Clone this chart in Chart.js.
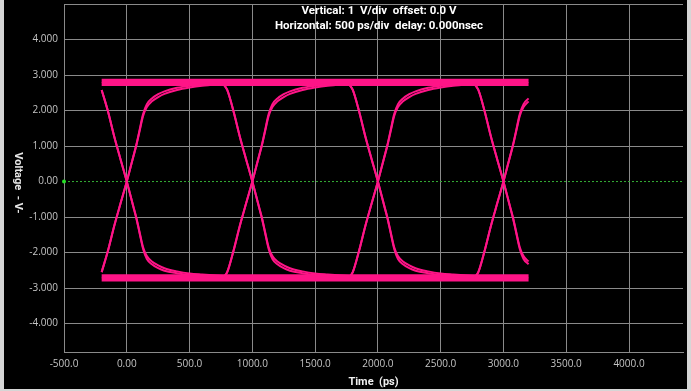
<!DOCTYPE html>
<html>
<head>
<meta charset="utf-8">
<script src="https://cdn.jsdelivr.net/npm/chart.js@4.4.1/dist/chart.umd.min.js"></script>
<style>
  html, body { margin: 0; padding: 0; background: #d6d6d6; }
  #wrap { position: absolute; left: 4px; top: 0; width: 683px; height: 389px; background: #000; }
</style>
</head>
<body>
<div id="wrap"><canvas id="eye"></canvas></div>
<script>
// ====================== DATA ======================
const titleLines = ["Vertical: 1  V/div  offset: 0.0 V", "Horizontal: 500 ps/div  delay: 0.000nsec"];
const xTitle = "Time  (ps)";
const yTitle = "Voltage  - V-";

const xTicks = [-500, 0, 500, 1000, 1500, 2000, 2500, 3000, 3500, 4000];
const xLabels = ["-500.0", "0.00", "500.0", "1000.0", "1500.0", "2000.0", "2500.0", "3000.0", "3500.0", "4000.0"];
const yTicks = [-4, -3, -2, -1, 0, 1, 2, 3, 4, 5];
const yLabels = ["-4.000", "-3.000", "-2.000", "-1.000", "0.00", "1.000", "2.000", "3.000", "4.000", ""];

// eye crossings and captured window (ps)
const crossings = [0, 1000, 2000, 3000];
const captureStart = -200;
const captureEnd = 3200;

// one edge, time relative to its crossing (ps) and volts
const edgeTimes = [-230, -200, -150, -100, -50, 0, 50, 75, 100, 130, 160, 200, 250, 300, 400, 500, 600, 770];
const riseFast = [-2.70, -2.55, -1.95, -1.25, -0.62, 0, 0.68, 1.02, 1.42, 1.90, 2.18, 2.34, 2.46, 2.54, 2.64, 2.70, 2.74, 2.78];
const riseSlow = [-2.70, -2.55, -1.95, -1.25, -0.62, 0, 0.67, 1.00, 1.39, 1.85, 2.10, 2.26, 2.38, 2.47, 2.58, 2.65, 2.70, 2.75];
const fallFast = [2.74, 2.58, 1.98, 1.27, 0.63, 0, -0.68, -1.02, -1.42, -1.90, -2.18, -2.33, -2.44, -2.51, -2.58, -2.63, -2.66, -2.69];
const fallSlow = [2.74, 2.58, 1.98, 1.27, 0.63, 0, -0.67, -1.00, -1.39, -1.85, -2.10, -2.25, -2.36, -2.44, -2.53, -2.59, -2.62, -2.66];

// settled logic levels (V)
const highLevels = [2.84, 2.75];
const lowLevels = [-2.67, -2.76];

// ====================== BUILD DATASETS ======================
const traceColor = "#ff1487";
const gridColor = "#8a8a8a";

function edgePoints(c, volts) {
    const pts = [];
    edgeTimes.forEach((t, i) => {
        const x = c + t;
        if (x >= captureStart && x <= captureEnd) pts.push({ x, y: volts[i] });
    });
    return pts;
}

const datasets = [];
crossings.forEach(c => {
    [riseFast, riseSlow, fallFast, fallSlow].forEach(v => {
        datasets.push({ data: edgePoints(c, v), borderColor: traceColor, borderWidth: 2 });
    });
});
highLevels.concat(lowLevels).forEach(level => {
    datasets.push({
        data: [{ x: captureStart, y: level }, { x: captureEnd, y: level }],
        borderColor: traceColor, borderWidth: 4
    });
});
// green zero reference (drawn underneath)
datasets.push({
    data: [{ x: -500, y: 0 }, { x: 4430, y: 0 }],
    borderColor: "#35b035", borderWidth: 1, borderDash: [2, 2],
    pointRadius: [2, 0], pointBackgroundColor: "#27e027", pointBorderWidth: 0,
    clip: false
});

// ====================== TEXT PLUGIN ======================
const overlayText = {
    id: "overlayText",
    afterDraw(chart) {
        const ctx = chart.ctx;
        ctx.save();
        ctx.fillStyle = "#ffffff";
        ctx.font = "bold 11.5px Roboto";
        ctx.textAlign = "center";
        ctx.textBaseline = "middle";
        ctx.fillText(titleLines[0], 375, 11);
        ctx.fillText(titleLines[1], 375, 26);

        ctx.translate(14, 183);
        ctx.rotate(Math.PI / 2);
        ctx.font = "bold 11px Roboto";
        ctx.fillStyle = "#e6e6e6";
        ctx.fillText(yTitle, 0, 0);
        ctx.restore();
    }
};

// ====================== CHART ======================
new Chart(document.getElementById("eye"), {
    type: "line",
    data: { datasets },
    plugins: [overlayText],
    options: {
        responsive: true,
        maintainAspectRatio: false,
        animation: false,
        layout: { padding: { top: 4, right: 1, left: 0, bottom: 0 } },
        elements: {
            point: { radius: 0 },
            line: { cubicInterpolationMode: "monotone" }
        },
        plugins: { legend: { display: false }, tooltip: { enabled: false } },
        scales: {
            x: {
                type: "linear",
                min: -500,
                max: 4430,
                afterBuildTicks: s => { s.ticks = xTicks.map(v => ({ value: v })); },
                afterFit: s => { s.height = 37; s.paddingLeft = 0; s.paddingRight = 0; },
                grid: { color: gridColor, drawTicks: false },
                border: { color: gridColor },
                ticks: {
                    color: "#c4c4c4",
                    font: { family: "Open Sans", size: 10 },
                    padding: 6,
                    maxRotation: 0,
                    autoSkip: false,
                    callback: v => xLabels[xTicks.indexOf(v)]
                },
                title: {
                    display: true,
                    text: xTitle,
                    color: "#f0f0f0",
                    font: { family: "Roboto", size: 11, weight: "bold" },
                    padding: { top: 0, bottom: 0 }
                }
            },
            y: {
                min: -4.8,
                max: 5,
                afterBuildTicks: s => { s.ticks = yTicks.map(v => ({ value: v })); },
                afterFit: s => { s.width = 60; s.paddingTop = 0; s.paddingBottom = 0; },
                grid: {
                    color: ctx => (ctx.tick && ctx.tick.value === 0 ? "rgba(0,0,0,0)" : gridColor),
                    drawTicks: false
                },
                border: { color: gridColor },
                ticks: {
                    color: "#c4c4c4",
                    font: { family: "Open Sans", size: 10 },
                    padding: 6,
                    autoSkip: false,
                    callback: v => yLabels[yTicks.indexOf(v)]
                }
            }
        }
    }
});
</script>
</body>
</html>
